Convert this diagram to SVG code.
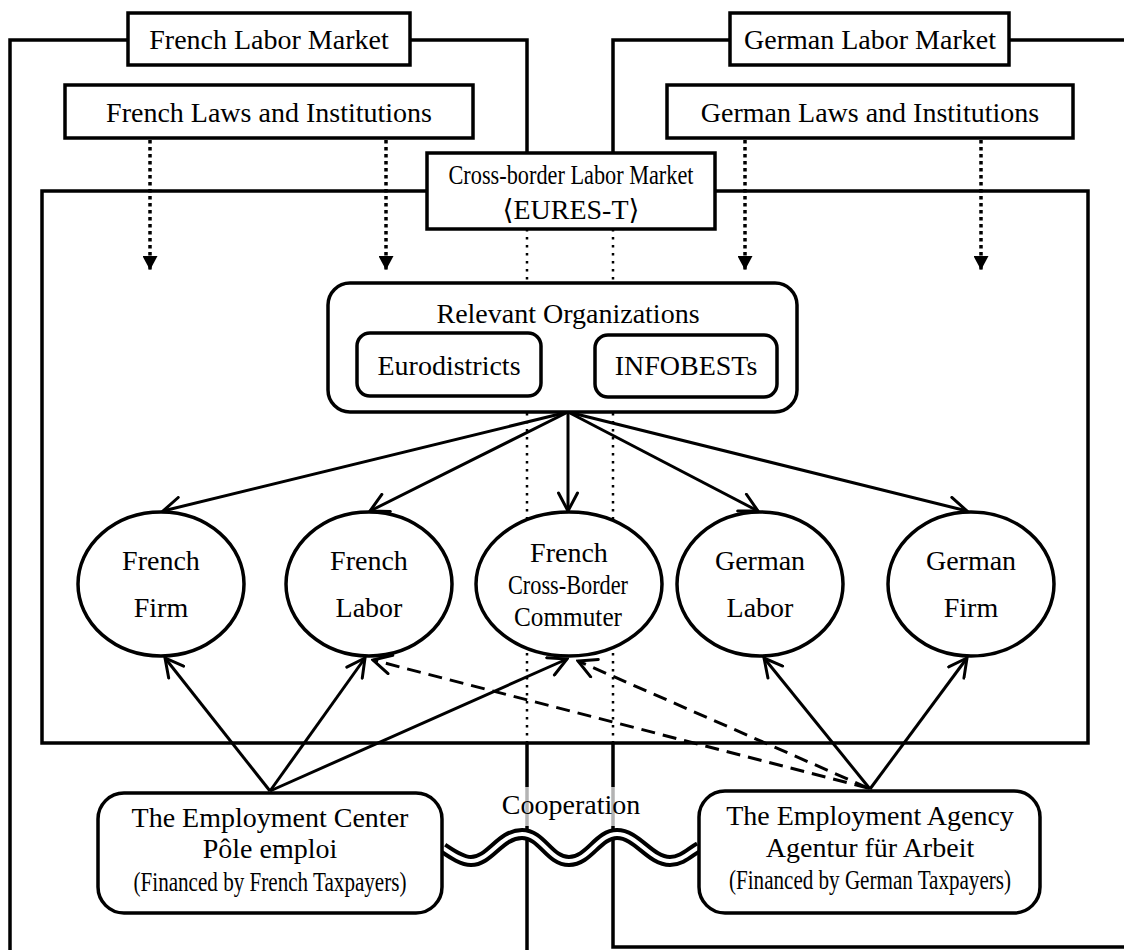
<svg xmlns="http://www.w3.org/2000/svg" width="1124" height="950" viewBox="0 0 1124 950">
<style>
text{font-family:"Liberation Serif","DejaVu Serif",serif;font-size:28px;fill:#000;text-anchor:middle}
.box{fill:#fff;stroke:#000;stroke-width:3.5}
.frame{fill:none;stroke:#000;stroke-width:3.5}
.dot{fill:none;stroke:#000;stroke-width:2.5;stroke-dasharray:2.5 5.5}
.ldot{fill:none;stroke:#000;stroke-width:3.5;stroke-dasharray:3.5 3.5}
.arr{fill:none;stroke:#000;stroke-width:3;marker-end:url(#open)}
.dash{fill:none;stroke:#000;stroke-width:3;stroke-dasharray:14 8;marker-end:url(#open)}
</style>
<defs>
<marker id="open" viewBox="0 0 22 22" refX="20" refY="11" markerWidth="22" markerHeight="22" markerUnits="userSpaceOnUse" orient="auto">
<path d="M2,1.5 L20,11 L2,20.5" fill="none" stroke="#000" stroke-width="3" stroke-linecap="round" stroke-linejoin="miter"/>
</marker>
<marker id="tri" viewBox="0 0 15 15" refX="14" refY="7.5" markerWidth="15" markerHeight="15" markerUnits="userSpaceOnUse" orient="auto">
<path d="M0,0 L14,7.5 L0,15 z" fill="#000"/>
</marker>
</defs>

<g id="frames">
<path class="frame" d="M128,40 H10 V950"/>
<path class="frame" d="M410,40 H527 V153"/>
<path class="frame" d="M527,743 V950"/>
<path class="frame" d="M730,40 H613 V153"/>
<path class="frame" d="M1009,40 H1124"/>
<path class="frame" d="M613,743 V947 H1124"/>
<rect class="frame" x="42" y="191" width="1046" height="552"/>
<path class="dot" d="M527,229 V743"/>
<path class="dot" d="M613,229 V743"/>
</g>

<g id="connectors">
<path class="ldot" d="M150,140 V270" marker-end="url(#tri)"/>
<path class="ldot" d="M386,140 V270" marker-end="url(#tri)"/>
<path class="ldot" d="M745,140 V270" marker-end="url(#tri)"/>
<path class="ldot" d="M981,140 V270" marker-end="url(#tri)"/>
<path class="arr" d="M568,412 L163,511"/>
<path class="arr" d="M568,412 L370,511"/>
<path class="arr" d="M568,412 L568,511"/>
<path class="arr" d="M568,412 L758,511"/>
<path class="arr" d="M568,412 L967,511"/>
<path class="arr" d="M270,791 L165,658"/>
<path class="arr" d="M270,791 L365,658"/>
<path class="arr" d="M270,791 L567,659"/>
<path class="arr" d="M870,789 L764,658"/>
<path class="arr" d="M870,789 L967,658"/>
<path class="dash" d="M868,788 L373,660"/>
<path class="dash" d="M868,788 L578,661"/>
</g>

<g id="french-labor-market">
<rect class="box" x="128" y="13" width="282" height="52"/>
<text x="269" y="49">French Labor Market</text>
</g>
<g id="german-labor-market">
<rect class="box" x="730" y="13" width="279" height="52"/>
<text x="870" y="49">German Labor Market</text>
</g>
<g id="french-laws">
<rect class="box" x="65" y="85" width="408" height="53"/>
<text x="269" y="122">French Laws and Institutions</text>
</g>
<g id="german-laws">
<rect class="box" x="667" y="85" width="406" height="53"/>
<text x="870" y="122">German Laws and Institutions</text>
</g>
<g id="cross-border-market">
<rect class="box" x="427" y="153" width="288" height="76"/>
<text x="571" y="184" font-size="25" textLength="245" lengthAdjust="spacingAndGlyphs">Cross-border Labor Market</text>
<text x="571" y="219" font-size="27">⟨EURES-T⟩</text>
</g>

<g id="relevant-organizations">
<rect class="box" x="328" y="283" width="469" height="129" rx="22"/>
<text x="568" y="323">Relevant Organizations</text>
<rect class="box" x="357" y="333" width="184" height="63" rx="13"/>
<text x="449" y="375">Eurodistricts</text>
<rect class="box" x="595" y="335" width="182" height="62" rx="13"/>
<text x="686" y="375">INFOBESTs</text>
</g>

<g id="french-firm">
<ellipse class="box" cx="161" cy="584" rx="83" ry="72"/>
<text x="161" y="570">French</text>
<text x="161" y="617">Firm</text>
</g>
<g id="french-labor">
<ellipse class="box" cx="369" cy="584" rx="83" ry="72"/>
<text x="369" y="570">French</text>
<text x="369" y="617">Labor</text>
</g>
<g id="french-commuter">
<ellipse class="box" cx="569" cy="584" rx="93" ry="72"/>
<text x="569" y="562">French</text>
<text x="568" y="594" font-size="30" textLength="120" lengthAdjust="spacingAndGlyphs">Cross-Border</text>
<text x="568" y="626" font-size="30" textLength="108" lengthAdjust="spacingAndGlyphs">Commuter</text>
</g>
<g id="german-labor">
<ellipse class="box" cx="760" cy="584" rx="83" ry="72"/>
<text x="760" y="570">German</text>
<text x="760" y="617">Labor</text>
</g>
<g id="german-firm">
<ellipse class="box" cx="971" cy="584" rx="83" ry="72"/>
<text x="971" y="570">German</text>
<text x="971" y="617">Firm</text>
</g>

<g id="cooperation">
<rect x="495" y="787" width="155" height="39" fill="#fff" fill-opacity="0.7"/>
<text x="571" y="814">Cooperation</text>
<path d="M443,848 C452,854 462,861 471,861 C490,861 500,834 522,834 C542,834 549,861 569,861 C589,861 598,834 617,834 C637,834 650,861 670,861 C682,861 690,852 699,847" fill="none" stroke="#000" stroke-width="12"/>
<path d="M443,848 C452,854 462,861 471,861 C490,861 500,834 522,834 C542,834 549,861 569,861 C589,861 598,834 617,834 C637,834 650,861 670,861 C682,861 690,852 699,847" fill="none" stroke="#fff" stroke-width="4"/>
</g>

<g id="employment-center">
<rect class="box" x="98" y="793" width="344" height="120" rx="26"/>
<text x="270" y="827">The Employment Center</text>
<text x="270" y="858">Pôle emploi</text>
<text x="270" y="891" font-size="24" textLength="273" lengthAdjust="spacingAndGlyphs">(Financed by French Taxpayers)</text>
</g>
<g id="employment-agency">
<rect class="box" x="699" y="791" width="341" height="122" rx="26"/>
<text x="870" y="825">The Employment Agency</text>
<text x="870" y="857">Agentur für Arbeit</text>
<text x="870" y="889" font-size="24" textLength="282" lengthAdjust="spacingAndGlyphs">(Financed by German Taxpayers)</text>
</g>
</svg>
